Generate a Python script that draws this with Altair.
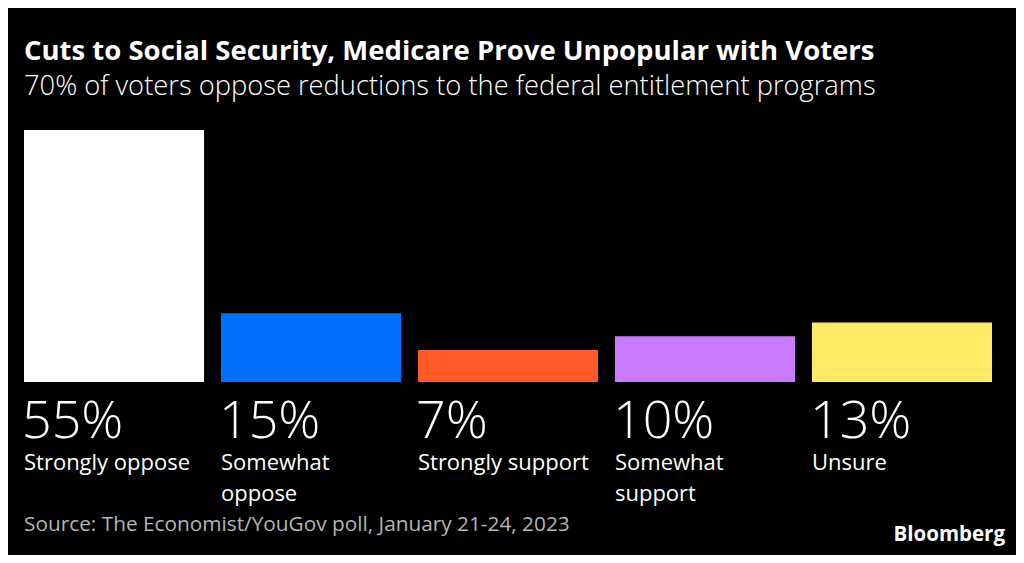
import altair as alt
import pandas as pd

categories = ["Strongly oppose", "Somewhat oppose", "Strongly support", "Somewhat support", "Unsure"]
label_lines = ["Strongly oppose", "Somewhat\noppose", "Strongly support", "Somewhat\nsupport", "Unsure"]
values = [55, 15, 7, 10, 13]
colors = ["#ffffff", "#0070ff", "#ff5a28", "#c97bff", "#ffea66"]

df = pd.DataFrame({
    "cat": categories,
    "value": values,
    "pct": [f"{v}%" for v in values],
    "label": label_lines,
})

FONT = "Open Sans"

x = alt.X("cat:N", sort=categories, axis=None,
          scale=alt.Scale(paddingInner=0.086, paddingOuter=0))

bars = alt.Chart(df).mark_bar(cornerRadius=0).encode(
    x=x,
    y=alt.Y("value:Q", axis=None, scale=alt.Scale(domain=[0, 55], nice=False)),
    color=alt.Color("cat:N", sort=categories, legend=None,
                    scale=alt.Scale(domain=categories, range=colors)),
)

pct = alt.Chart(df).mark_text(
    align="left", baseline="alphabetic", font=FONT, fontSize=52, fontWeight=300,
    color="#ffffff", dy=56, dx=-2,
).encode(
    x=alt.X("cat:N", sort=categories, bandPosition=0),
    y=alt.datum(0),
    text="pct:N",
)

lab = alt.Chart(df).mark_text(
    align="left", baseline="alphabetic", font=FONT, fontSize=22, fontWeight=400,
    color="#ffffff", dy=88, lineBreak="\n", lineHeight=31,
).encode(
    x=alt.X("cat:N", sort=categories, bandPosition=0),
    y=alt.datum(0),
    text="label:N",
)

source = alt.Chart(pd.DataFrame({"t": ["Source: The Economist/YouGov poll, January 21-24, 2023"]})).mark_text(
    align="left", baseline="alphabetic", font=FONT, fontSize=20.8, color="#b4b4b4",
).encode(x=alt.value(0), y=alt.value(401), text="t:N")

brand = alt.Chart(pd.DataFrame({"t": ["Bloomberg"]})).mark_text(
    align="right", baseline="alphabetic", font=FONT, fontSize=20.5, fontWeight="bold",
    color="#ffffff",
).encode(x=alt.value(981), y=alt.value(411), text="t:N")

chart = alt.layer(bars, pct, lab, source, brand).properties(
    width=968,
    height=252,
    title=alt.TitleParams(
        text="Cuts to Social Security, Medicare Prove Unpopular with Voters",
        subtitle="70% of voters oppose reductions to the federal entitlement programs",
        anchor="start", frame="group", font=FONT, fontSize=27.5, fontWeight="bold",
        color="#ffffff", subtitleFont=FONT, subtitleFontSize=27.3, subtitleFontWeight=300,
        subtitleColor="#ffffff", subtitlePadding=7, offset=30,
    ),
    autosize=alt.AutoSizeParams(type="none"),
    padding={"left": 16, "top": 122, "right": 24, "bottom": 173},
    background="#000000",
).configure_view(stroke=None)

chart.save("out.html", embed_options={"renderer": "svg", "actions": False})
